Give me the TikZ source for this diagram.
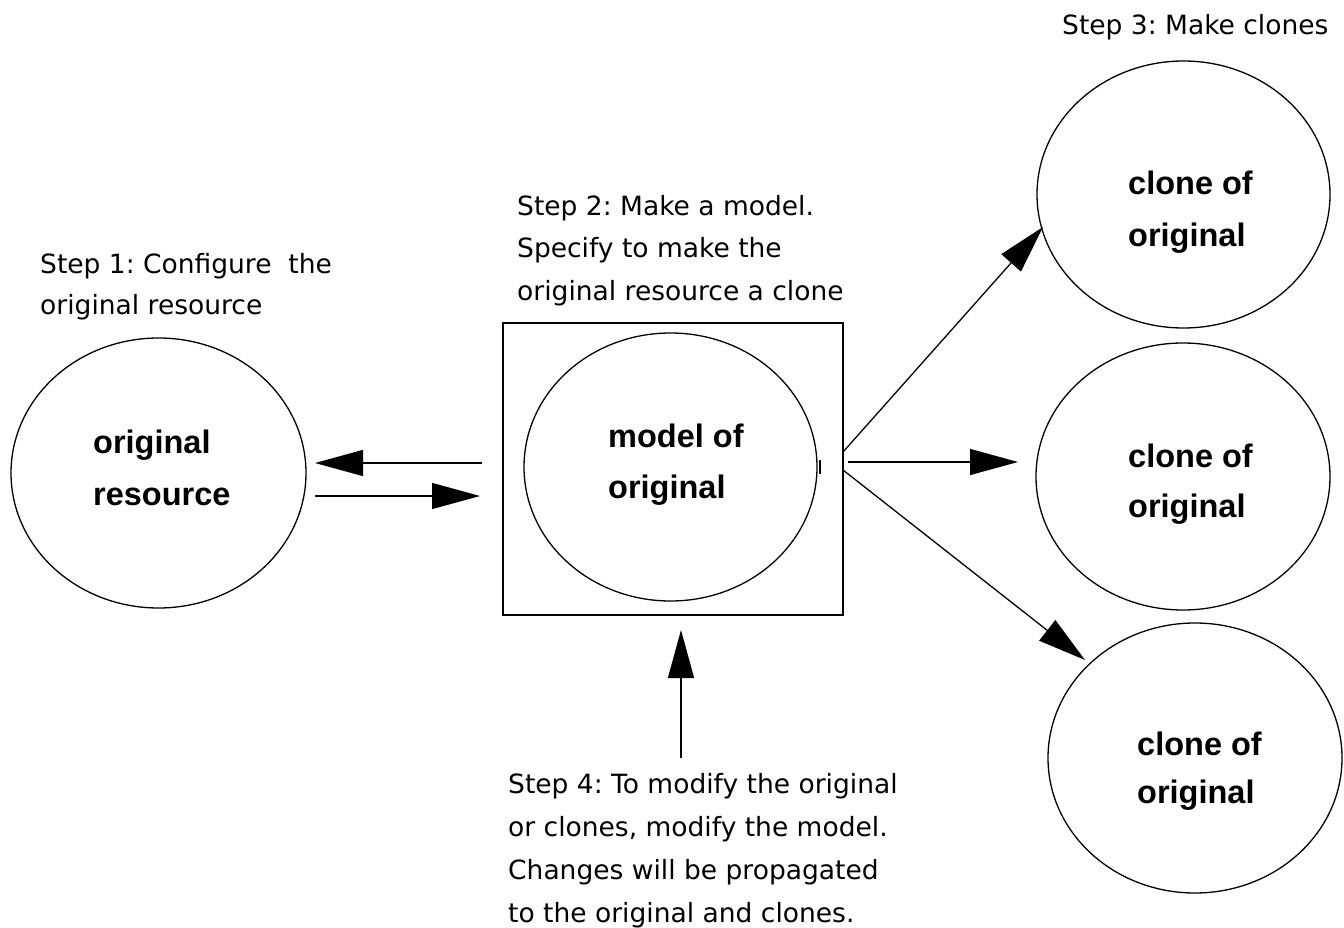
\documentclass[tikz,border=0pt]{standalone}
\usepackage{fontspec}
\setmainfont{DejaVu Sans}
\newfontfamily\labelfont{Liberation Sans}
\usetikzlibrary{arrows.meta,shapes.geometric}
\frenchspacing
\begin{document}
\begin{tikzpicture}[x=1pt,y=-1pt,
  bubble/.style={draw, ellipse, line width=1.3pt, inner sep=0pt},
  frame/.style={draw, rectangle, line width=1.8pt, inner sep=0pt},
  inlabel/.style={font=\labelfont\bfseries\fontsize{32.5}{36}\selectfont, anchor=base west, inner sep=0pt},
  note/.style={font=\fontsize{26.5}{30}\selectfont, anchor=base west, inner sep=0pt},
  arr/.style={line width=1.3pt, -{Triangle[length=48pt,width=26pt]}}]
\useasboundingbox (0,0) rectangle (1344,928);

% resources
\node[bubble, minimum width=295pt, minimum height=270pt] (orig) at (158.5,473) {};
\node[frame, minimum width=340pt, minimum height=292pt] (modelbox) at (673,469) {};
\node[bubble, minimum width=293pt, minimum height=268pt] (model) at (670.5,467) {};
\node[bubble, minimum width=293pt, minimum height=267pt] (cloneA) at (1183.5,194.5) {};
\node[bubble, minimum width=294pt, minimum height=267pt] (cloneB) at (1183,476.5) {};
\node[bubble, minimum width=294pt, minimum height=270pt] (cloneC) at (1195,758) {};
\draw[line width=2.2pt] (820,460) -- (820,474);

% labels inside the resources
\node[inlabel] (origA) at (93,453) {original};
\node[inlabel] (origB) at (93,505) {resource};
\node[inlabel] (modelA) at (608,447) {model of};
\node[inlabel] (modelB) at (608,498) {original};
\node[inlabel] (cloneAa) at (1128,195) {clone of};
\node[inlabel] (cloneAb) at (1128,247) {original};
\node[inlabel] (cloneBa) at (1128,467) {clone of};
\node[inlabel] (cloneBb) at (1128,517) {original};
\node[inlabel] (cloneCa) at (1137,755) {clone of};
\node[inlabel] (cloneCb) at (1137,803) {original};

% step notes
\node[note] (s1a) at (40,273) {Step 1: Configure\ \ the};
\node[note] (s1b) at (40,314) {original resource};
\node[note] (s2a) at (517,215) {Step 2: Make a model.};
\node[note] (s2b) at (517,258) {Specify to make the};
\node[note] (s2c) at (517,300) {original resource a clone};
\node[note] (s3) at (1062,35) {Step 3: Make clones};
\node[note] (s4a) at (508,793) {Step 4: To modify the original};
\node[note] (s4b) at (508,836) {or clones, modify the model.};
\node[note] (s4c) at (508,879) {Changes will be propagated};
\node[note] (s4d) at (508,922) {to the original and clones.};

% connector end points
\coordinate (backS) at (482,463);
\coordinate (backT) at (315,463);
\coordinate (fwdS) at (315,496);
\coordinate (fwdT) at (480,496);
\coordinate (upS) at (843,452);
\coordinate (upT) at (1043,227);
\coordinate (midS) at (848,462);
\coordinate (midT) at (1018,462);
\coordinate (downS) at (843,470);
\coordinate (downT) at (1085,660);
\coordinate (editS) at (681,758);
\coordinate (editT) at (681,630);

% connectors
\draw[arr] (backS) -- (backT);
\draw[arr] (fwdS) -- (fwdT);
\draw[arr] (upS) -- (upT);
\draw[arr] (midS) -- (midT);
\draw[arr] (downS) -- (downT);
\draw[arr] (editS) -- (editT);
\end{tikzpicture}
\end{document}
